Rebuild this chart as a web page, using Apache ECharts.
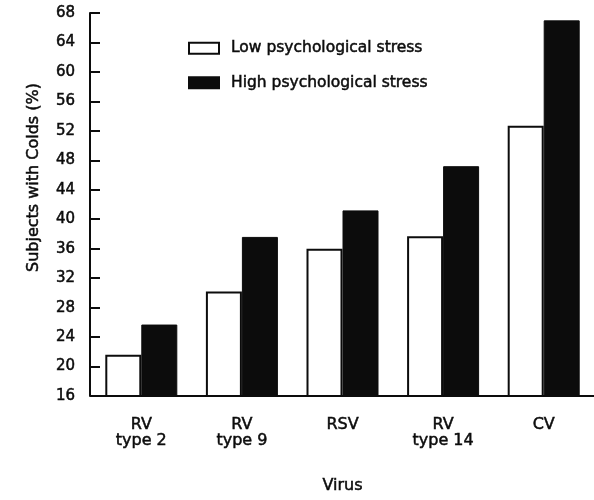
<!DOCTYPE html>
<html>
<head>
<meta charset="utf-8">
<script src="https://cdn.jsdelivr.net/npm/echarts@6/dist/echarts.min.js"></script>
<style>html,body{margin:0;padding:0;background:#fff;}#c{width:594px;height:500px;}</style>
</head>
<body>
<div id="c"></div>
<script>
var categories = ['RV\ntype 2', 'RV\ntype 9', 'RSV', 'RV\ntype 14', 'CV'];
var lowStress = [21.6, 30.2, 36.0, 37.7, 52.7];
var highStress = [25.7, 37.6, 41.2, 47.2, 67.0];
var seriesNames = ['Low psychological stress', 'High psychological stress'];
var yName = 'Subjects with Colds (%)';
var xName = 'Virus';

var ink = '#0c0c0c';
var font = 'DejaVu Sans';
var thick = { textBorderColor: ink, textBorderWidth: 0.5 };
function ts(size, extra) {
  var o = { fontFamily: font, fontSize: size, color: ink, textBorderColor: ink, textBorderWidth: 0.5 };
  for (var k in extra) o[k] = extra[k];
  return o;
}
var chart = echarts.init(document.getElementById('c'));
chart.setOption({
  animation: false,
  backgroundColor: '#fff',
  textStyle: { fontFamily: font, color: ink },
  legend: {
    left: 183, top: 35, orient: 'vertical', itemGap: 18,
    itemWidth: 30, itemHeight: 11, icon: 'rect',
    textStyle: ts(15.5, { padding: [0, 0, 0, 7] }),
    data: seriesNames
  },
  grid: { left: 91, top: 13, bottom: 104, width: 514, containLabel: false },
  xAxis: {
    type: 'category', data: categories,
    name: xName, nameLocation: 'middle', nameGap: 82,
    nameTextStyle: ts(16),
    axisLine: { lineStyle: { color: ink, width: 2 } },
    axisTick: { show: false },
    axisLabel: ts(16, { lineHeight: 16, margin: 21, interval: 0 })
  },
  yAxis: {
    type: 'value', min: 16, max: 68, interval: 4, offset: 1,
    name: yName, nameLocation: 'middle', nameGap: 48,
    nameTextStyle: ts(16, { padding: [0, 0, 0, 54] }),
    axisLine: { show: true, lineStyle: { color: ink, width: 2 } },
    axisTick: { show: true, inside: true, length: 10, lineStyle: { color: ink, width: 2 } },
    splitLine: { show: false },
    axisLabel: ts(15, { margin: 15 })
  },
  series: [
    { name: seriesNames[0], type: 'bar', data: lowStress, barWidth: 36, barGap: '0%',
      itemStyle: { color: '#fff', borderColor: ink, borderWidth: 2 } },
    { name: seriesNames[1], type: 'bar', data: highStress, barWidth: 36,
      itemStyle: { color: ink, borderColor: ink, borderWidth: 1 } }
  ]
});
</script>
</body>
</html>
